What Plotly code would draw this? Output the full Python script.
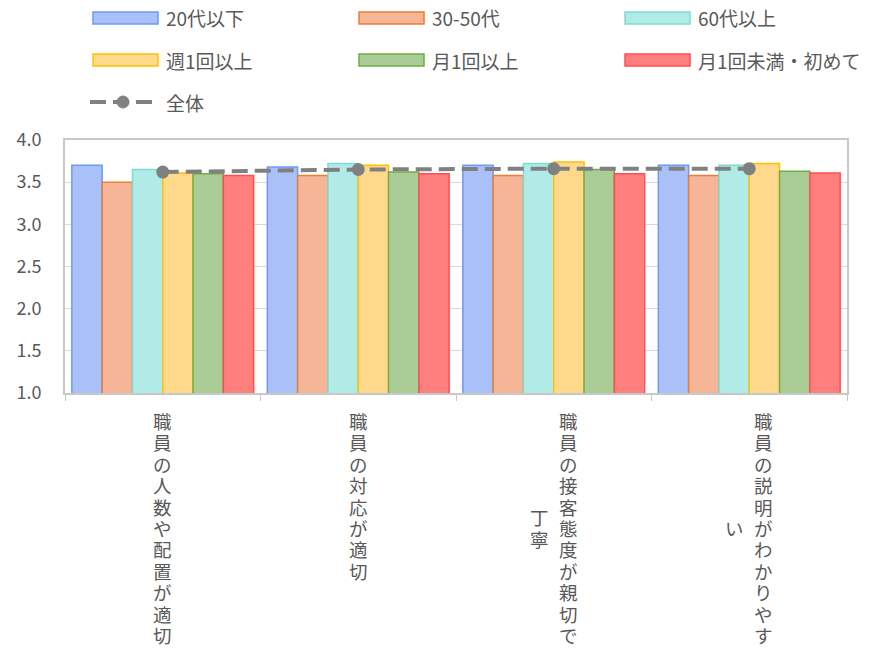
"""Grouped bar chart: staff evaluation by age / visit frequency, with overall line."""
import plotly.graph_objects as go

categories = [
    "職員の人数や配置が適切",
    "職員の対応が適切",
    "職員の接客態度が親切で丁寧",
    "職員の説明がわかりやすい",
]
series_names = ["20代以下", "30-50代", "60代以上", "週1回以上", "月1回以上", "月1回未満・初めて"]
series_values = [
    [3.70, 3.68, 3.70, 3.70],
    [3.50, 3.58, 3.58, 3.58],
    [3.65, 3.72, 3.72, 3.70],
    [3.61, 3.70, 3.74, 3.72],
    [3.60, 3.62, 3.65, 3.63],
    [3.58, 3.60, 3.60, 3.61],
]
overall_name = "全体"
overall_values = [3.62, 3.65, 3.66, 3.66]
y_ticks = [1.0, 1.5, 2.0, 2.5, 3.0, 3.5, 4.0]

fills = ["#aac0f8", "#f6b597", "#b0ebe7", "#fed88b", "#aacd98", "#ff7f7f"]
borders = ["#6e9af2", "#ed7d31", "#7ddcd4", "#ffc000", "#70ad47", "#ff5050"]
TEXT = "#595959"
FONT = "Noto Sans CJK JP"

W, H = 873, 650
L, R, T, B = 65, 847, 140, 393


def px_x(x):
    return (x - L) / (R - L)


def px_y(y):
    return (B - y) / (B - T)


fig = go.Figure()
for name, vals, fc, bc in zip(series_names, series_values, fills, borders):
    fig.add_trace(go.Bar(
        x=categories, y=vals, name=name,
        marker=dict(color=fc, line=dict(color=bc, width=1.5)),
        showlegend=False,
    ))

fig.add_trace(go.Scatter(
    x=categories, y=overall_values, name=overall_name, mode="lines+markers",
    line=dict(color="#808080", width=4, dash="16px,7px"),
    marker=dict(size=13, color="#808080"),
    showlegend=False,
))

# legend drawn by hand to get Excel-like wide swatches
shapes, annotations = [], []
col_x = [93, 359, 625]
row_y = [18, 60, 102]
for i, (name, fc, bc) in enumerate(zip(series_names, fills, borders)):
    x0, y0 = col_x[i % 3], row_y[i // 3]
    shapes.append(dict(
        type="rect", xref="paper", yref="paper",
        x0=px_x(x0), x1=px_x(x0 + 65), y0=px_y(y0 - 6), y1=px_y(y0 + 6),
        fillcolor=fc, line=dict(color=bc, width=1.5),
    ))
    annotations.append(dict(
        text=name, xref="paper", yref="paper", x=px_x(x0 + 71), y=px_y(y0),
        xanchor="left", yanchor="middle", showarrow=False,
        font=dict(size=19, color=TEXT, family=FONT),
    ))
shapes.append(dict(
    type="line", xref="paper", yref="paper",
    x0=px_x(90), x1=px_x(156), y0=px_y(row_y[2]), y1=px_y(row_y[2]),
    line=dict(color="#808080", width=4, dash="16px,7px"),
))
shapes.append(dict(
    type="circle", xref="paper", yref="paper",
    x0=px_x(117), x1=px_x(129), y0=px_y(row_y[2] - 6), y1=px_y(row_y[2] + 6),
    fillcolor="#808080", line=dict(color="#808080", width=1),
))
annotations.append(dict(
    text=overall_name, xref="paper", yref="paper", x=px_x(164), y=px_y(row_y[2]),
    xanchor="left", yanchor="middle", showarrow=False,
    font=dict(size=19, color=TEXT, family=FONT),
))

# vertical (stacked) category labels, one glyph per annotation,
# columns read right to left and centred on each other
LABEL_SIZE = 18.5
PITCH_Y = 21.4
PITCH_X = 29
PER_COL = 11
for cat in categories:
    cols = [cat[i:i + PER_COL] for i in range(0, len(cat), PER_COL)]
    maxlen = max(len(c) for c in cols)
    for k, col in enumerate(cols):
        for j, ch in enumerate(col):
            annotations.append(dict(
                text=ch, xref="x", yref="paper", x=cat, y=0,
                xanchor="center", yanchor="top", showarrow=False,
                xshift=(len(cols) - 1) / 2 * PITCH_X - k * PITCH_X,
                yshift=-13 - ((maxlen - len(col)) / 2 + j) * PITCH_Y,
                font=dict(size=LABEL_SIZE, color=TEXT, family=FONT),
            ))

fig.update_layout(
    width=W, height=H,
    margin=dict(l=L, r=W - R, t=T, b=H - B),
    barmode="group", bargap=0.07, bargroupgap=0,
    paper_bgcolor="white", plot_bgcolor="white",
    font=dict(family=FONT, color=TEXT, size=16),
    shapes=shapes, annotations=annotations,
    showlegend=False,
)
fig.update_xaxes(
    showticklabels=False, ticks="outside", tickson="boundaries", ticklen=6,
    tickcolor="#c8c8c8", showline=True, linecolor="#c8c8c8", linewidth=2,
    mirror=True, showgrid=False,
)
fig.update_yaxes(
    range=[1, 4], tickvals=y_ticks, tickformat=".1f",
    showgrid=True, gridcolor="#d9d9d9", gridwidth=1,
    showline=True, linecolor="#c8c8c8", linewidth=2, mirror=True,
    ticks="", ticklabelstandoff=18, tickfont=dict(size=18, color=TEXT),
    zeroline=False,
)

# drop the page's default 8px body margin so the figure fills the window
fig.write_html(
    "out.html",
    config={"displayModeBar": False},
    post_script="document.body.style.margin = '0';",
)
